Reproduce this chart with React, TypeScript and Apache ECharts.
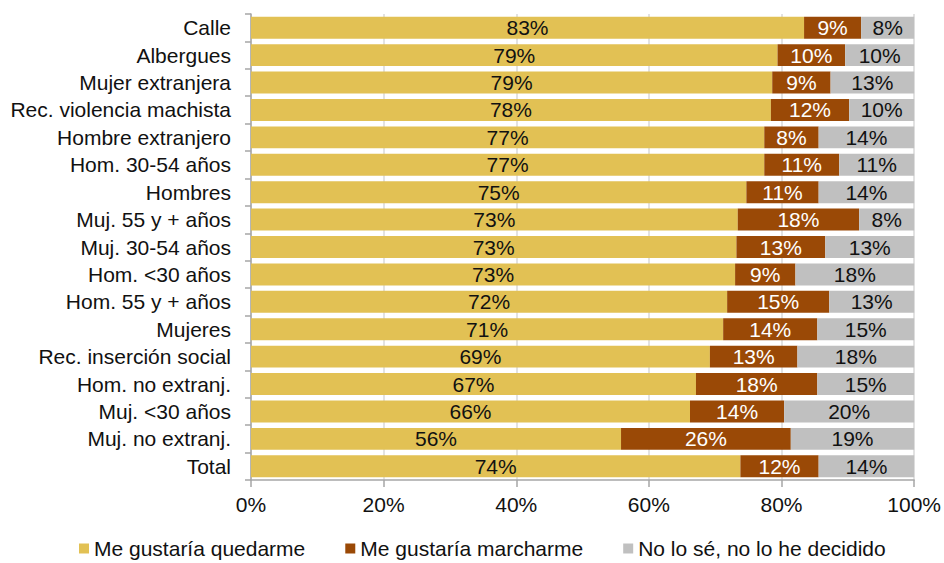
import React, { useEffect, useRef } from "react";
import * as echarts from "echarts";

const categories = [
  "Calle",
  "Albergues",
  "Mujer extranjera",
  "Rec. violencia machista",
  "Hombre extranjero",
  "Hom. 30-54 años",
  "Hombres",
  "Muj. 55 y + años",
  "Muj. 30-54 años",
  "Hom. <30 años",
  "Hom. 55 y + años",
  "Mujeres",
  "Rec. inserción social",
  "Hom. no extranj.",
  "Muj. <30 años",
  "Muj. no extranj.",
  "Total",
];

const quedarme = [83.4, 79.4, 78.6, 78.4, 77.4, 77.4, 74.7, 73.4, 73.2, 73.0, 71.8, 71.2, 69.2, 67.1, 66.2, 55.8, 73.8];
const marcharme = [8.6, 10.2, 8.8, 11.8, 8.2, 11.3, 10.9, 18.3, 13.4, 9.1, 15.4, 14.2, 13.2, 18.3, 14.2, 25.6, 11.8];
const noSe = [8.0, 10.4, 12.6, 9.8, 14.4, 11.3, 14.4, 8.3, 13.4, 17.9, 12.8, 14.6, 17.6, 14.6, 19.6, 18.6, 14.4];

const seriesNames = ["Me gustaría quedarme", "Me gustaría marcharme", "No lo sé, no lo he decidido"];
const xTicks = [0, 20, 40, 60, 80, 100];

const FONT = "'Liberation Sans', Arial, sans-serif";

export default function App() {
  const ref = useRef<HTMLDivElement>(null);
  useEffect(() => {
    if (!ref.current) return;
    const chart = echarts.init(ref.current, null, { renderer: "svg" });
    const colors = ["#E2C154", "#9A4906", "#C0C0C0"];
    const labelColors = ["#111111", "#ffffff", "#111111"];
    const datas = [quedarme, marcharme, noSe];
    chart.setOption({
      animation: false,
      textStyle: { fontFamily: FONT },
      grid: { left: 251, right: 28, top: 14, bottom: 83, containLabel: false },
      legend: {
        top: 538,
        left: 79,
        itemWidth: 10,
        itemHeight: 10,
        itemGap: 40,
        padding: 0,
        icon: "rect",
        textStyle: { fontSize: 21, lineHeight: 21, color: "#111", fontFamily: FONT, padding: [0, 0, 0, 0] },
        data: seriesNames,
      },
      xAxis: {
        type: "value",
        min: xTicks[0],
        max: xTicks[xTicks.length - 1],
        interval: 20,
        axisLine: { show: true, lineStyle: { color: "#A6A6A6", width: 1.5 } },
        axisTick: { show: true, length: 7, lineStyle: { color: "#A6A6A6", width: 1.5 } },
        axisLabel: { formatter: "{value}%", fontSize: 21, color: "#111", margin: 14, fontFamily: FONT },
        splitLine: { show: true, lineStyle: { color: "#D9D9D9", width: 1.5 } },
      },
      yAxis: {
        type: "category",
        data: categories,
        inverse: true,
        axisLine: { show: true, lineStyle: { color: "#A6A6A6", width: 1.5 } },
        axisTick: { show: true, length: 6, lineStyle: { color: "#A6A6A6", width: 1.5 } },
        axisLabel: { fontSize: 21, color: "#111", margin: 20, fontFamily: FONT },
      },
      series: datas.map((d, i) => ({
        name: seriesNames[i],
        type: "bar",
        stack: "total",
        barWidth: "80%",
        data: d,
        itemStyle: { color: colors[i] },
        label: {
          show: true,
          position: "inside",
          color: labelColors[i],
          fontSize: 21,
          fontFamily: FONT,
          formatter: (p: any) => Math.round(p.value) + "%",
        },
      })),
    });
    return () => chart.dispose();
  }, []);
  return (
    <div
      ref={ref}
      style={{ position: "fixed", left: 0, top: 0, width: 944, height: 563, background: "#fff" }}
    />
  );
}
